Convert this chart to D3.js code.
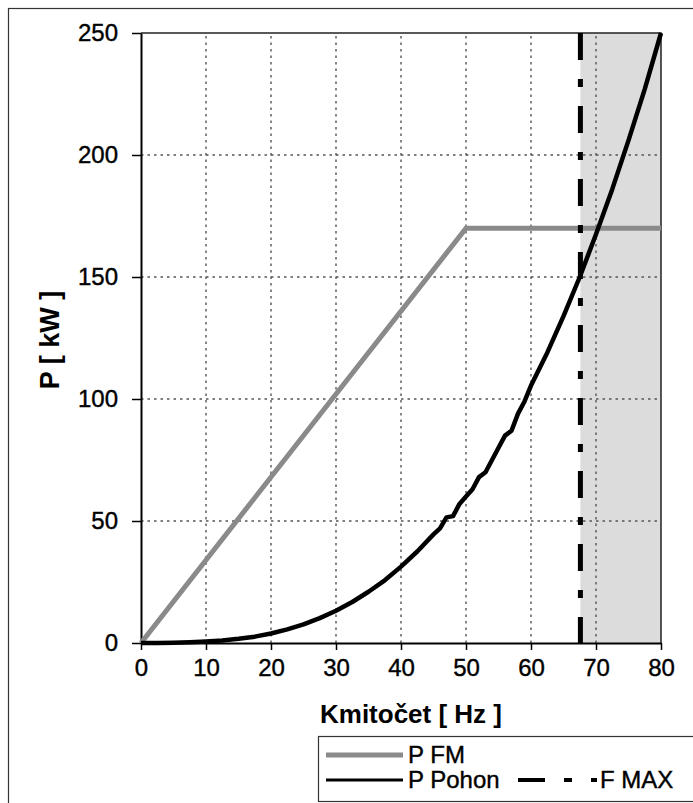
<!DOCTYPE html>
<html>
<head>
<meta charset="utf-8">
<script src="https://cdnjs.cloudflare.com/ajax/libs/d3/7.8.5/d3.min.js"></script>
<style>
  html, body { margin: 0; padding: 0; background: #fff; }
  svg { display: block; }
</style>
</head>
<body>
<svg id="chart" width="693" height="803"></svg>
<script>
// ---- Data ----
const xTicks = [0, 10, 20, 30, 40, 50, 60, 70, 80];
const yTicks = [0, 50, 100, 150, 200, 250];
const fmFreq = [0, 50, 80];
const fmPower = [0, 170, 170];
const pohonFreq = [0, 2.5, 5, 7.5, 10, 12.5, 15, 17.5, 20, 22.5, 25, 27.5, 30, 32.5, 35, 37.5, 40, 42.5, 45, 46, 47, 48, 49, 50, 51, 52, 53, 54, 55, 56, 57, 58, 59, 60, 62.5, 65, 67.5, 70, 72.5, 75, 77.5, 80];
const pohonPower = [0, 0, 0.1, 0.3, 0.6, 1, 1.7, 2.6, 3.9, 5.6, 7.6, 10.2, 13.2, 16.8, 21, 25.7, 31.3, 37.5, 44.5, 47, 51.5, 52, 57, 60, 63, 68, 70, 75, 80, 85, 87, 94, 99, 105.5, 119, 134, 150, 167.5, 186, 206, 227, 250];
const fMax = 67.6;
const xTitle = "Kmitočet [ Hz ]";
const yTitle = "P [ kW ]";
const legendLabels = ["P FM", "P Pohon", "F MAX"];

// ---- Layout ----
const svg = d3.select("#chart");
const pLeft = 141, pRight = 661, pTop = 33, pBottom = 643;
const x = d3.scaleLinear().domain([0, 80]).range([pLeft, pRight]);
const y = d3.scaleLinear().domain([0, 250]).range([pBottom, pTop]);
const font = "'Liberation Sans', Arial, sans-serif";

// outer frame
svg.append("rect").attr("x", 8.5).attr("y", 8.5).attr("width", 700).attr("height", 800)
  .attr("fill", "none").attr("stroke", "#333").attr("stroke-width", 1.2);

// shaded region
svg.append("rect")
  .attr("x", x(fMax)).attr("y", y(250))
  .attr("width", x(80) - x(fMax)).attr("height", y(0) - y(250))
  .attr("fill", "#dcdcdc");

// grid
const grid = svg.append("g").attr("stroke", "#555").attr("stroke-width", 1.4).attr("stroke-dasharray", "2.5,4");
grid.selectAll("line.v").data(xTicks.filter(d => d > 0 && d < 80)).join("line")
  .attr("class", "v")
  .attr("x1", d => x(d)).attr("x2", d => x(d)).attr("y1", y(0)).attr("y2", y(250));
grid.selectAll("line.h").data(yTicks.filter(d => d > 0 && d < 250)).join("line")
  .attr("class", "h")
  .attr("x1", x(0)).attr("x2", x(80)).attr("y1", d => y(d)).attr("y2", d => y(d));

// plot border (top/right)
svg.append("path").attr("d", `M${pLeft},${pTop}H${pRight}V${pBottom}`)
  .attr("fill", "none").attr("stroke", "#222").attr("stroke-width", 1.5);

// axes
const xAxis = d3.axisBottom(x).tickValues(xTicks).tickSize(7).tickPadding(9).tickSizeOuter(0);
const gx = svg.append("g").attr("transform", `translate(0,${pBottom})`).call(xAxis);
const yAxis = d3.axisLeft(y).tickValues(yTicks).tickSize(9).tickPadding(14).tickSizeOuter(0);
const gy = svg.append("g").attr("transform", `translate(${pLeft},0)`).call(yAxis);
[gx, gy].forEach(g => {
  g.select(".domain").attr("stroke", "#000").attr("stroke-width", 2);
  g.selectAll(".tick line").attr("stroke", "#000").attr("stroke-width", 1.5);
  g.selectAll(".tick text").attr("font-family", font).attr("font-size", 24).attr("fill", "#000")
    .attr("stroke", "#000").attr("stroke-width", 0.4);
});

// lines
const line = d3.line().x(d => x(d[0])).y(d => y(d[1]));
svg.append("path").datum(fmFreq.map((f, i) => [f, fmPower[i]]))
  .attr("d", line).attr("fill", "none").attr("stroke", "#8a8a8a").attr("stroke-width", 5);
svg.append("path").datum(pohonFreq.map((f, i) => [f, pohonPower[i]]))
  .attr("d", line).attr("fill", "none").attr("stroke", "#000").attr("stroke-width", 4.5)
  .attr("stroke-linejoin", "round");

// F MAX dashed line
svg.append("line").attr("x1", x(fMax)).attr("x2", x(fMax)).attr("y1", y(250)).attr("y2", y(0))
  .attr("stroke", "#000").attr("stroke-width", 5).attr("stroke-dasharray", "27,19,8,19");

// titles
svg.append("text").attr("x", 411).attr("y", 723).attr("text-anchor", "middle")
  .attr("font-family", font).attr("font-weight", "bold").attr("font-size", 26).text(xTitle);
svg.append("text").attr("transform", "translate(59,340) rotate(-90)").attr("text-anchor", "middle")
  .attr("font-family", font).attr("font-weight", "bold").attr("font-size", 27)
  .attr("xml:space", "preserve").text(yTitle);

// legend
const lg = svg.append("g");
lg.append("rect").attr("x", 318.5).attr("y", 736.5).attr("width", 400).attr("height", 65)
  .attr("fill", "#fff").attr("stroke", "#333").attr("stroke-width", 1.2);
lg.append("line").attr("x1", 326).attr("x2", 403).attr("y1", 755).attr("y2", 755)
  .attr("stroke", "#8a8a8a").attr("stroke-width", 5);
lg.append("line").attr("x1", 326).attr("x2", 403).attr("y1", 780).attr("y2", 780)
  .attr("stroke", "#000").attr("stroke-width", 3);
lg.append("line").attr("x1", 518).attr("x2", 598).attr("y1", 780).attr("y2", 780)
  .attr("stroke", "#000").attr("stroke-width", 4).attr("stroke-dasharray", "27,19,8,19,6,100");
const ltext = [[408, 763, legendLabels[0]], [408, 788, legendLabels[1]], [600, 788, legendLabels[2]]];
lg.selectAll("text.l").data(ltext).join("text")
  .attr("x", d => d[0]).attr("y", d => d[1])
  .attr("font-family", font).attr("font-size", 24).attr("fill", "#000")
  .attr("stroke", "#000").attr("stroke-width", 0.4).text(d => d[2]);
</script>
</body>
</html>
